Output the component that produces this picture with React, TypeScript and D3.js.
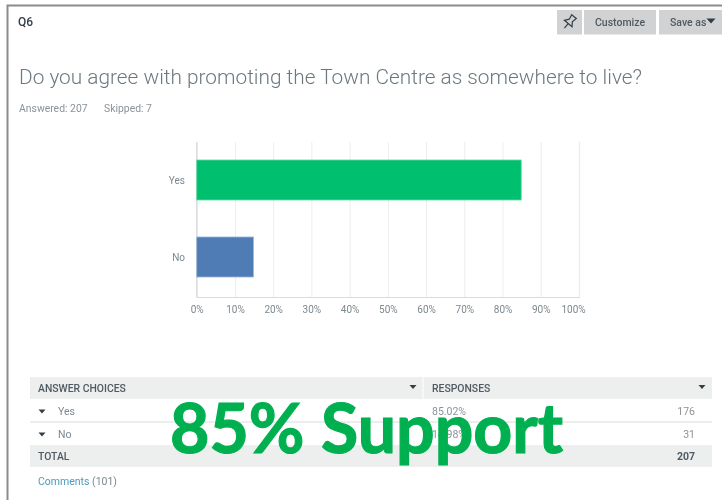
import React, { useEffect, useRef } from "react";
import * as d3 from "d3";

const categories = ["Yes", "No"];
const percents = [85.02, 14.98];
const counts = [176, 31];
const barColors = ["#00BF6F", "#507CB6"];
const barEdges = ["#66DDA8", "#9DB8DA"];
const xTicks = [0, 10, 20, 30, 40, 50, 60, 70, 80, 90, 100];
const total = 207;

const UI_FONT = "Roboto, 'Open Sans', sans-serif";

const App = () => {
  const svgRef = useRef<SVGSVGElement | null>(null);

  useEffect(() => {
    if (!svgRef.current) return;

    const width = 722;
    const height = 500;

    const svgRoot = d3.select(svgRef.current);
    svgRoot.selectAll("*").remove();
    svgRoot.attr("width", width).attr("height", height).style("background", "#fff");

    // The reference is a soft screenshot, everything but the caption is slightly blurred
    const svg = svgRoot.append("g").style("filter", "blur(0.35px)");

    const addText = (
      x: number,
      y: number,
      str: string,
      size: number,
      fill: string,
      weight: number | string = 400,
      anchor = "start"
    ) =>
      svg
        .append("text")
        .attr("x", x)
        .attr("y", y)
        .attr("font-family", UI_FONT)
        .attr("font-size", size)
        .attr("font-weight", weight)
        .attr("fill", fill)
        .attr("text-anchor", anchor)
        .text(str);

    const addArrow = (cx: number, cy: number, w: number, h: number, fill: string) =>
      svg
        .append("path")
        .attr("d", d3.line()([[cx - w / 2, cy - h / 2], [cx + w / 2, cy - h / 2], [cx, cy + h / 2]]) + "Z")
        .attr("fill", fill);

    // Frame of the screenshot
    svg
      .append("path")
      .attr("d", "M7.5,500V5.5H722")
      .attr("fill", "none")
      .attr("stroke", "#8c8c8c")
      .attr("stroke-width", 2);

    // Header
    addText(18, 26, "Q6", 12, "#333e48", 500);
    addText(19, 84, "Do you agree with promoting the Town Centre as somewhere to live?", 20.5, "#6b787f", 300)
      .attr("textLength", 623)
      .attr("lengthAdjust", "spacingAndGlyphs");
    addText(19, 112, "Answered: 207", 10.4, "#8b9399");
    addText(104, 112, "Skipped: 7", 10.4, "#8b9399");

    // Buttons
    [
      [557, 25],
      [584, 72],
      [659, 63],
    ].forEach(([x, w]) => {
      svg.append("rect").attr("x", x).attr("y", 10).attr("width", w).attr("height", 24.5).attr("fill", "#d0d2d3");
    });
    addText(620, 26, "Customize", 10.5, "#4f5a62", 500, "middle");
    addText(670, 26, "Save as", 10.5, "#4f5a62", 500);
    addArrow(711, 21, 9, 5, "#333e48");

    // Pin icon
    const pin = svg
      .append("g")
      .attr("transform", "translate(569.5,22) rotate(40)")
      .attr("fill", "none")
      .attr("stroke", "#333e48")
      .attr("stroke-width", 1.2);
    pin.append("path").attr("d", "M-3,-7H3L2,-2L5,2H-5L-2,-2Z");
    pin.append("path").attr("d", "M0,2V8");

    // Scales
    const x = d3.scaleLinear().domain([0, 100]).range([196.7, 579]);
    const y = d3
      .scaleBand()
      .domain(categories)
      .range([141.5, 295.5])
      .paddingInner(0.48)
      .paddingOuter(0.24);

    // Axis and gridlines
    const xAxis = svg
      .append("g")
      .attr("transform", "translate(0,297)")
      .call(
        d3
          .axisBottom(x)
          .tickValues(xTicks)
          .tickSize(-155)
          .tickPadding(9)
          .tickFormat((d) => `${d}%`)
      );
    xAxis.select(".domain").attr("stroke", "#d9dbdc").attr("stroke-width", 1.2);
    xAxis.selectAll(".tick line").attr("stroke", "#eceeee");
    xAxis
      .selectAll("text")
      .attr("font-family", UI_FONT)
      .attr("font-size", 10)
      .attr("fill", "#7d888f")
      // the 100% label sits pulled in from its gridline
      .attr("dx", (d) => (d === 100 ? -6 : 0));

    svg
      .append("line")
      .attr("x1", x(0))
      .attr("x2", x(0))
      .attr("y1", 142)
      .attr("y2", 297)
      .attr("stroke", "#d9dbdc");

    // Bars
    svg
      .selectAll(".bar")
      .data(categories)
      .enter()
      .append("rect")
      .attr("class", "bar")
      .attr("x", x(0))
      .attr("y", (d) => y(d) as number)
      .attr("width", (_, i) => x(percents[i]) - x(0) - 0.5)
      .attr("height", y.bandwidth())
      .attr("fill", (_, i) => barColors[i])
      .attr("stroke", (_, i) => barEdges[i])
      .attr("stroke-width", 0.8);

    categories.forEach((c) => {
      addText(185, (y(c) as number) + y.bandwidth() / 2 + 3.5, c, 10, "#7d888f", 400, "end");
    });

    // Table
    const tableLeft = 30;
    const tableRight = 712;
    const colX = 424;
    svg.append("rect").attr("x", tableLeft).attr("y", 377).attr("width", tableRight - tableLeft).attr("height", 22).attr("fill", "#edeeee");
    svg.append("rect").attr("x", tableLeft).attr("y", 445).attr("width", tableRight - tableLeft).attr("height", 22).attr("fill", "#edeeee");
    svg.append("rect").attr("x", colX - 2).attr("y", 377).attr("width", 2).attr("height", 22).attr("fill", "#f7f7f7");
    svg.append("line").attr("x1", tableLeft).attr("x2", tableRight).attr("y1", 422).attr("y2", 422).attr("stroke", "#e6e8e8").attr("stroke-width", 1.5);

    addText(38, 392, "ANSWER CHOICES", 10.4, "#4f5a62", 500);
    addText(432, 392, "RESPONSES", 10.4, "#4f5a62", 500);
    addArrow(413, 387, 7, 4, "#333e48");
    addArrow(702, 387, 7, 4, "#333e48");

    const rowY = d3.scalePoint().domain(categories).range([415, 438]);
    categories.forEach((c, i) => {
      const ry = rowY(c) as number;
      addArrow(42, ry - 3.5, 7, 4, "#333e48");
      addText(58, ry, c, 10.5, "#7d888f");
      addText(432, ry, `${percents[i].toFixed(2)}%`, 10.5, "#8b9399");
      addText(695, ry, String(counts[i]), 10.5, "#8b9399", 400, "end");
    });

    addText(38, 459.5, "TOTAL", 10.4, "#4f5a62", 500);
    addText(695, 460, String(total), 10.5, "#4f5a62", 700, "end");

    const comments = addText(38, 485, "Comments", 10.5, "#4a9cbc");
    comments.append("tspan").attr("fill", "#7d888f").text(" (101)");

    // Overlay caption
    svgRoot
      .append("text")
      .attr("x", 170)
      .attr("y", 452.5)
      .attr("font-family", "Lato, 'Noto Sans', sans-serif")
      .attr("font-size", 69)
      .attr("font-weight", 700)
      .attr("fill", "#00B050")
      .attr("stroke", "#00B050")
      .attr("stroke-width", 1.2)
      .attr("textLength", 393)
      .attr("lengthAdjust", "spacingAndGlyphs")
      .text("85% Support");
  }, []);

  return <svg ref={svgRef} style={{ position: "absolute", left: 0, top: 0 }}></svg>;
};

export default App;
